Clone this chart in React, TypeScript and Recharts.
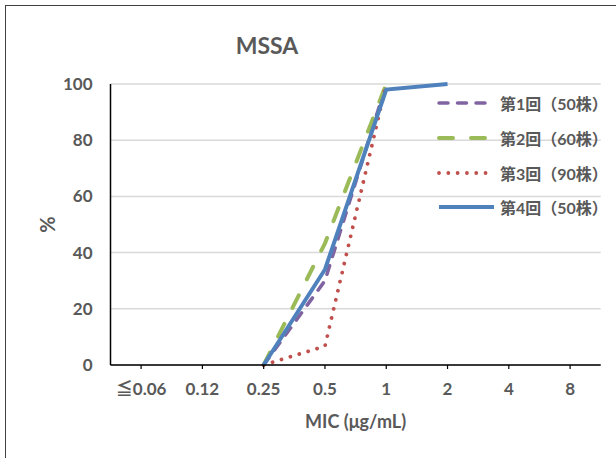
import React from 'react';
import { LineChart, Line, XAxis, YAxis, CartesianGrid } from 'recharts';

const categories = ['≦0.06', '0.12', '0.25', '0.5', '1', '2', '4', '8'];
const round1 = [null, null, 0, 30, 100, null, null, null];
const round2 = [null, null, 0, 43.3, 100, null, null, null];
const round3 = [null, null, 0, 6.7, 100, null, null, null];
const round4 = [null, null, 0, 34, 98, 100, null, null];
const yTicks = [0, 20, 40, 60, 80, 100];

const seriesNames = ['第1回（50株）', '第2回（60株）', '第3回（90株）', '第4回（50株）'];
const seriesValues = [round1, round2, round3, round4];
const seriesStyles = [
  { color: '#8064A2', width: 3.5, dash: '9 9.5' },
  { color: '#9BBB59', width: 4, dash: '14 18' },
  { color: '#C0504D', width: 3.8, dash: '0.01 9.3' },
  { color: '#4F81BD', width: 4, dash: undefined as string | undefined },
];

const data = categories.map((c, i) => {
  const row: Record<string, any> = { cat: c };
  seriesValues.forEach((vals, k) => {
    row['s' + k] = vals[i];
  });
  return row;
});

const FONT = "Lato, 'Noto Sans CJK JP', sans-serif";
const TXT = '#595959';

export default function App() {
  return (
    <div style={{ position: 'absolute', left: 0, top: 0, width: 616, height: 458, overflow: 'hidden', background: '#fff', fontFamily: FONT }}>
      <div style={{ position: 'absolute', left: 5, top: 5, width: 700, height: 600, border: '1.5px solid #404040', boxSizing: 'border-box' }} />
      <div style={{ position: 'absolute', left: 0, top: 31, width: 534, textAlign: 'center', fontSize: 23, fontWeight: 700, color: TXT, lineHeight: '28px' }}>MSSA</div>
      <div style={{ position: 'absolute', left: 0, top: 0 }}>
        <LineChart width={616} height={458} data={data} margin={{ top: 84, right: 15.3, left: 0, bottom: 33 }}>
          <CartesianGrid vertical={false} stroke="#D9D9D9" strokeWidth={1.5} />
          <XAxis
            dataKey="cat"
            height={60}
            padding={{ left: 30.6, right: 30.6 }}
            tickSize={4}
            tickMargin={14}
            axisLine={{ stroke: '#000', strokeWidth: 1.5 }}
            tickLine={{ stroke: '#000', strokeWidth: 1.2 }}
            tick={{ fill: TXT, fontSize: 17, fontWeight: 700, fontFamily: FONT }}
            interval={0}
            label={{
              content: (props: any) => {
                const vb = props.viewBox;
                return (
                  <text x={vb.x + vb.width / 2} y={vb.y + 63} textAnchor="middle" fill={TXT} fontSize={18} fontWeight={700} fontFamily={FONT}>
                    MIC (μg/mL)
                  </text>
                );
              },
            }}
          />
          <YAxis
            width={110.5}
            domain={[0, 100]}
            ticks={yTicks}
            tickLine={false}
            tickSize={6}
            tickMargin={12}
            axisLine={{ stroke: '#000', strokeWidth: 1.5 }}
            tick={{ fill: TXT, fontSize: 17, fontWeight: 700, fontFamily: FONT }}
            label={{
              content: (props: any) => {
                const vb = props.viewBox;
                const x = vb.x + 47;
                const y = vb.y + vb.height / 2;
                return (
                  <text x={x} y={y} transform={`rotate(-90, ${x}, ${y})`} textAnchor="middle" dominantBaseline="central" fill={TXT} fontSize={20} fontWeight={700} fontFamily={FONT}>
                    %
                  </text>
                );
              },
            }}
          />
          {seriesStyles.map((s, k) => (
            <Line
              key={k}
              type="linear"
              dataKey={'s' + k}
              name={seriesNames[k]}
              stroke={s.color}
              strokeWidth={s.width}
              strokeDasharray={s.dash}
              strokeLinecap={s.dash ? 'round' : 'butt'}
              dot={false}
              activeDot={false}
              isAnimationActive={false}
            />
          ))}
        </LineChart>
      </div>
      <div style={{ position: 'absolute', left: 436, top: 86, width: 180 }}>
        {seriesNames.map((n, k) => {
          const s = seriesStyles[k];
          return (
            <div key={k} style={{ display: 'flex', alignItems: 'center', height: 34.7 }}>
              <svg width={60} height={10} style={{ flex: 'none' }}>
                <line x1={3} y1={5} x2={58} y2={5} stroke={s.color} strokeWidth={s.width} strokeDasharray={s.dash} strokeLinecap={s.dash ? 'round' : 'butt'} />
              </svg>
              <span style={{ marginLeft: 4, fontSize: 16, fontWeight: 700, color: TXT, whiteSpace: 'nowrap' }}>{n}</span>
            </div>
          );
        })}
      </div>
    </div>
  );
}
